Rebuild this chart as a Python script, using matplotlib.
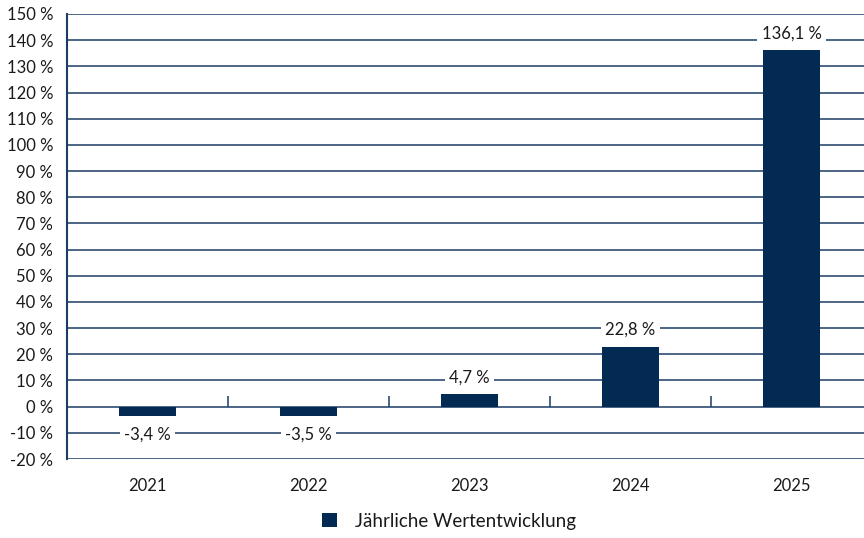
import matplotlib
matplotlib.use("Agg")
import matplotlib.pyplot as plt
import numpy as np
from matplotlib.patches import Patch

categories = ["2021", "2022", "2023", "2024", "2025"]
values = [-3.4, -3.5, 4.7, 22.8, 136.1]
value_labels = ["-3,4 %", "-3,5 %", "4,7 %", "22,8 %", "136,1 %"]
y_ticks = list(range(-20, 151, 10))
y_tick_labels = [f"{t} %" for t in y_ticks]
legend_label = "Jährliche Wertentwicklung"

navy = "#022a52"
grid_col = "#1d3c66"
text_col = "#1a1a1a"

plt.rcParams['font.family'] = ['Lato', 'DejaVu Sans']

fig = plt.figure(figsize=(8.64, 5.38), dpi=100)
ax = fig.add_axes([67/864, 1 - 459/538, 1 - 67/864, (459 - 14)/538])

x = np.arange(len(categories))
ax.set_axisbelow(True)
for t in y_ticks:
    ax.axhline(t, color=grid_col, lw=1.1, zorder=0)
ax.bar(x, values, width=0.355, color=navy, zorder=2)

# boundary ticks on zero line
bounds = x[:-1] + 0.5
ax.vlines(bounds, 0, 4, color=grid_col, lw=1.1, zorder=1)

for xi, v, lab in zip(x, values, value_labels):
    off = 17 if v >= 0 else -19
    ax.annotate(lab, (xi, v), xytext=(0, off), textcoords="offset pixels",
                ha="center", va="center", fontsize=12, color=text_col, zorder=3,
                bbox=dict(boxstyle="square,pad=0.25", fc="white", ec="none"))

ax.set_xlim(-0.5, 4.45)
ax.set_ylim(-20, 150)
ax.set_yticks(y_ticks)
ax.set_yticklabels(y_tick_labels)
ax.set_xticks(x)
ax.set_xticklabels(categories)
ax.tick_params(axis="both", length=0, labelsize=12, labelcolor=text_col)
ax.tick_params(axis="x", pad=14)
ax.tick_params(axis="y", pad=10)
for s in ["top", "right", "bottom"]:
    ax.spines[s].set_visible(False)
ax.spines["left"].set_color(grid_col)
ax.spines["left"].set_linewidth(1.5)

handles = [Patch(facecolor=navy, edgecolor="none", label=legend_label)]
fig.legend(handles=handles, loc="center", bbox_to_anchor=(449/864, 1 - 521/538),
           frameon=False, fontsize=13.5, handlelength=0.8, handleheight=0.8,
           handletextpad=1.0, labelcolor=text_col)

fig.savefig("out.png", dpi=100)
